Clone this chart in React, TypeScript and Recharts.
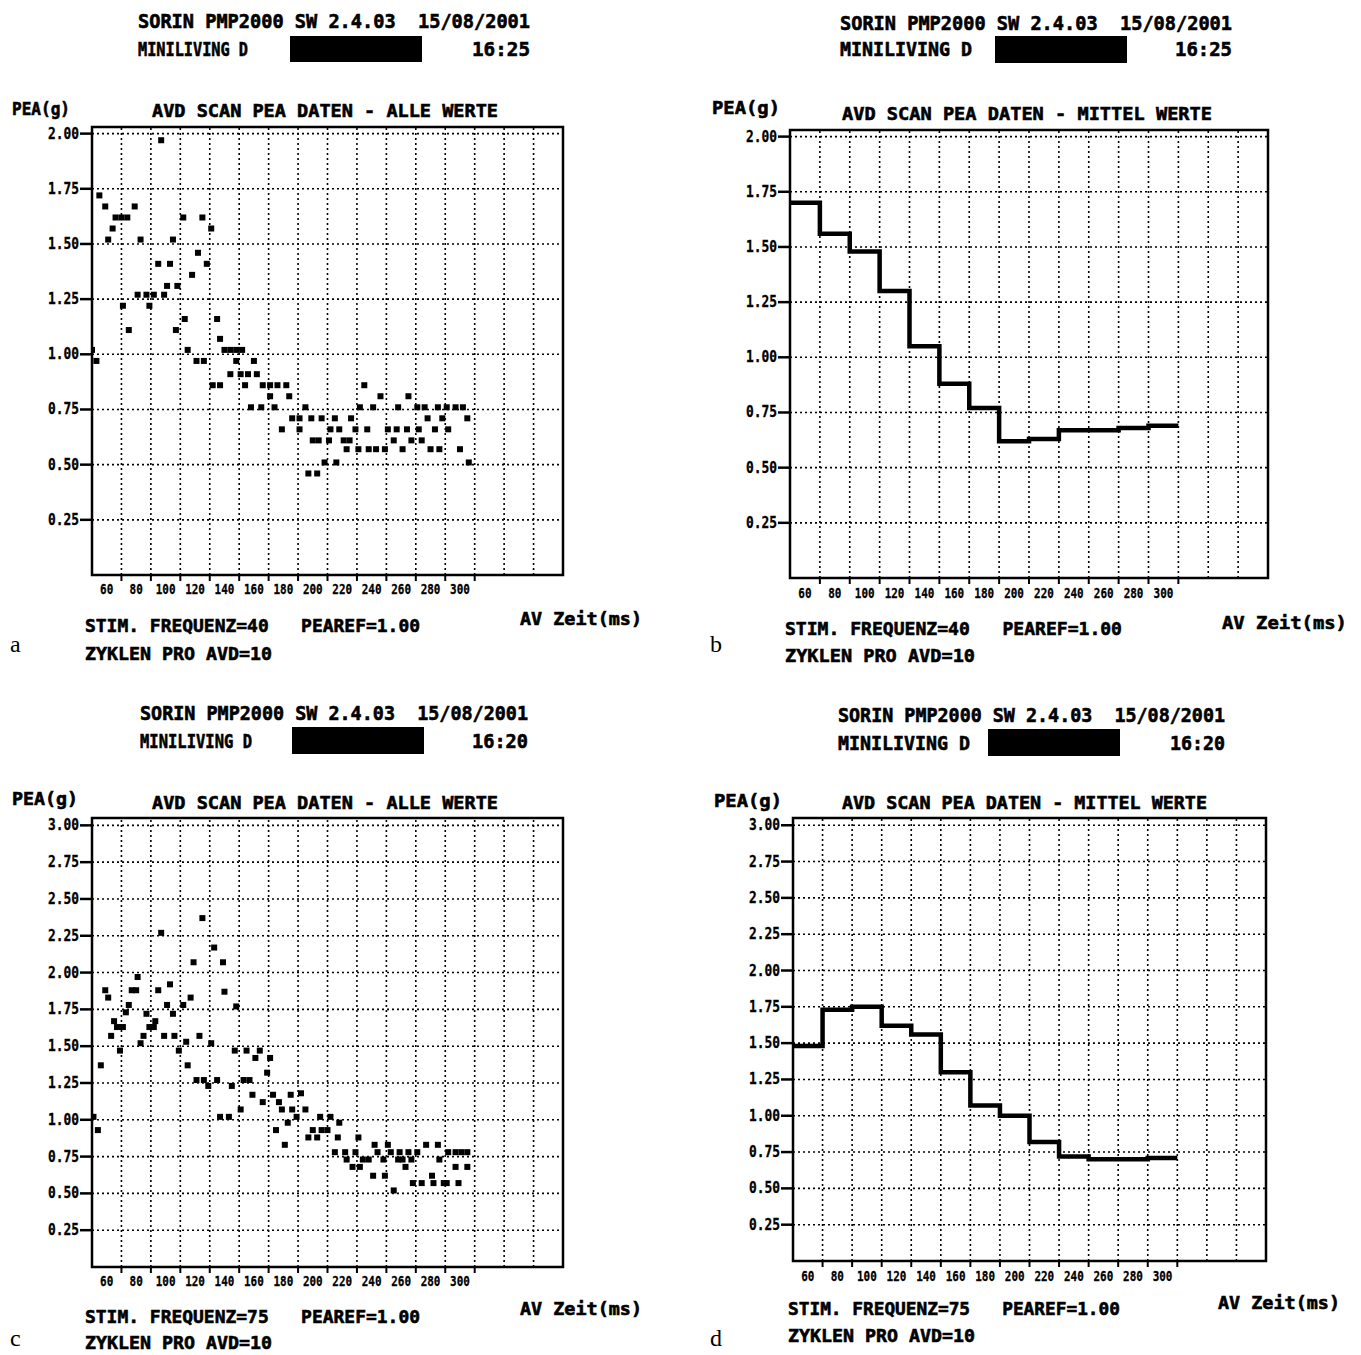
import React from 'react';
import { ComposedChart, XAxis, YAxis, Scatter, Line, ReferenceLine, ReferenceArea } from 'recharts';

// ---------- data ----------
const binCenters = [60, 80, 100, 120, 140, 160, 180, 200, 220, 240, 260, 280, 300];
const xTickLabels = ['60', '80', '100', '120', '140', '160', '180', '200', '220', '240', '260', '280', '300'];
const xTickPositions = [70, 90, 110, 130, 150, 170, 190, 210, 230, 250, 270, 290, 310];
const gridX = [70, 90, 110, 130, 150, 170, 190, 210, 230, 250, 270, 290, 310, 330, 350];
const yTicks2 = [0.25, 0.5, 0.75, 1.0, 1.25, 1.5, 1.75, 2.0];
const yTicks3 = [0.25, 0.5, 0.75, 1.0, 1.25, 1.5, 1.75, 2.0, 2.25, 2.5, 2.75, 3.0];

// Panel b: mean PEA per AV delay (stim 40)
const meanB = [1.70, 1.56, 1.48, 1.30, 1.05, 0.88, 0.77, 0.62, 0.63, 0.67, 0.67, 0.68, 0.69];
// Panel d: mean PEA per AV delay (stim 75)
const meanD = [1.48, 1.73, 1.75, 1.62, 1.56, 1.30, 1.07, 1.00, 0.82, 0.72, 0.70, 0.70, 0.71];

// Panel a: all values (stim 40)
const allAx = [
  97, 55, 59, 79, 66, 70, 74, 64, 61, 83, 105, 112, 125, 131, 122, 95, 103, 128, 118, 101, 108,
  81, 87, 92, 99, 71, 89, 113, 135, 75, 107, 137, 50, 115, 140, 144, 148, 152, 53, 121, 126, 148, 160,
  144, 151, 156, 162, 132, 137, 154, 166, 171, 176, 182, 235, 171, 184, 246, 265,
  158, 165, 174, 195, 232, 241, 258, 271, 276, 285, 291, 297, 302,
  186, 191, 199, 206, 215, 226, 278, 288, 305,
  179, 191, 212, 218, 229, 237, 251, 257, 264, 272, 283, 292,
  200, 204, 211, 221, 225, 255, 267, 274,
  223, 231, 238, 243, 249, 261, 280, 286, 300,
  208, 216, 306, 197, 203,
];
const allAy = [
  1.97, 1.72, 1.67, 1.67, 1.62, 1.62, 1.62, 1.57, 1.52, 1.52, 1.52, 1.62, 1.62, 1.57, 1.46, 1.41, 1.41, 1.41, 1.36, 1.31, 1.31,
  1.27, 1.27, 1.27, 1.27, 1.22, 1.22, 1.16, 1.16, 1.11, 1.11, 1.07, 1.02, 1.02, 1.02, 1.02, 1.02, 1.02, 0.97, 0.97, 0.97, 0.97, 0.97,
  0.91, 0.91, 0.91, 0.91, 0.86, 0.86, 0.86, 0.86, 0.86, 0.86, 0.86, 0.86, 0.81, 0.81, 0.81, 0.81,
  0.76, 0.76, 0.76, 0.76, 0.76, 0.76, 0.76, 0.76, 0.76, 0.76, 0.76, 0.76, 0.76,
  0.71, 0.71, 0.71, 0.71, 0.71, 0.71, 0.71, 0.71, 0.71,
  0.66, 0.66, 0.66, 0.66, 0.66, 0.66, 0.66, 0.66, 0.66, 0.66, 0.66, 0.66,
  0.61, 0.61, 0.61, 0.61, 0.61, 0.61, 0.61, 0.61,
  0.57, 0.57, 0.57, 0.57, 0.57, 0.57, 0.57, 0.57, 0.57,
  0.51, 0.51, 0.51, 0.46, 0.46,
];

// Panel c: all values (stim 75)
const allCx = [
  125, 97, 133, 119, 139, 81, 59, 61, 77, 80, 95, 103, 140, 117, 75, 73, 101, 105, 112, 148, 87,
  65, 67, 71, 89, 92, 93, 63, 85, 99, 106, 123, 83, 114, 131, 69, 109, 147, 155, 164, 161, 171,
  56, 115, 169, 121, 126, 129, 135, 145, 153, 157, 159, 166, 173, 177, 179, 185, 186, 151,
  137, 143, 51, 54, 183, 189, 175, 181,
  192, 195, 205, 212, 218, 200, 206, 210, 197, 203, 217, 231, 242, 251, 277, 285,
  215, 222, 229, 244, 253, 259, 265, 271, 292, 297, 301, 305,
  223, 234, 238, 248, 258, 261, 267, 286,
  227, 232, 263, 297, 305,
  241, 249, 281,
  268, 274, 282, 289, 291, 299,
  255,
];
const allCy = [
  2.37, 2.27, 2.17, 2.07, 2.07, 1.97, 1.88, 1.83, 1.88, 1.88, 1.88, 1.92, 1.87, 1.83, 1.78, 1.73, 1.78, 1.72, 1.78, 1.77, 1.72,
  1.67, 1.63, 1.63, 1.63, 1.63, 1.67, 1.57, 1.57, 1.57, 1.57, 1.57, 1.52, 1.53, 1.52, 1.47, 1.47, 1.47, 1.47, 1.47, 1.42, 1.42,
  1.37, 1.37, 1.32, 1.27, 1.27, 1.23, 1.27, 1.23, 1.27, 1.27, 1.17, 1.12, 1.17, 1.12, 1.07, 1.17, 1.07, 1.07,
  1.02, 1.02, 1.02, 0.93, 0.98, 1.02, 0.93, 0.83,
  1.18, 1.07, 1.02, 1.02, 0.98, 0.93, 0.93, 0.93, 0.88, 0.88, 0.88, 0.88, 0.83, 0.83, 0.83, 0.83,
  0.78, 0.78, 0.78, 0.78, 0.78, 0.78, 0.78, 0.78, 0.78, 0.78, 0.78, 0.78,
  0.73, 0.73, 0.73, 0.73, 0.73, 0.73, 0.73, 0.73,
  0.68, 0.68, 0.68, 0.68, 0.68,
  0.62, 0.62, 0.62,
  0.57, 0.57, 0.57, 0.57, 0.57, 0.57,
  0.52,
];

// ---------- helpers ----------
const MONO = "'DejaVu Sans Mono', 'Liberation Mono', monospace";

const toPoints = (xs: number[], ys: number[]) => xs.map((x, i) => ({ x, y: ys[i] }));
const toSteps = (vals: number[]) => {
  const pts = binCenters.map((c, i) => ({ x: c - 10, y: vals[i] }));
  pts.push({ x: binCenters[binCenters.length - 1] + 10, y: vals[vals.length - 1] });
  return pts;
};

const Square = (props: any) => {
  const { cx, cy } = props;
  if (cx == null || cy == null) return null;
  return <rect x={cx - 3} y={cy - 3} width={6} height={6} fill="#000" />;
};

const XTick = (props: any) => {
  const { x, y, index, half, dy } = props;
  const s = xTickLabels[index];
  return (
    <text x={x - half} y={y + dy} textAnchor="middle" fontFamily={MONO} fontWeight="bold" fontSize={14}
      textLength={s.length * 6.6} lengthAdjust="spacingAndGlyphs" fill="#000" stroke="#000" strokeWidth={0.3}>
      {s}
    </text>
  );
};

const YTick = (props: any) => {
  const { x, y, payload } = props;
  const s = Number(payload.value).toFixed(2);
  return (
    <text x={x} y={y + 5} textAnchor="end" fontFamily={MONO} fontWeight="bold" fontSize={15}
      textLength={31} lengthAdjust="spacingAndGlyphs" fill="#000" stroke="#000" strokeWidth={0.3}>
      {s}
    </text>
  );
};

type ChartProps = {
  left: number; top: number; width: number; height: number;
  margin: { top: number; right: number; bottom: number; left: number };
  yMax: number; yTicks: number[];
  points?: { x: number; y: number }[];
  steps?: { x: number; y: number }[];
  half: number; labelDy: number;
};

function PanelChart(p: ChartProps) {
  return (
    <div style={{ position: 'absolute', left: p.left, top: p.top, width: p.width, height: p.height }}>
      <ComposedChart width={p.width} height={p.height} margin={p.margin}>
        <XAxis
          type="number"
          dataKey="x"
          domain={[50, 370]}
          ticks={xTickPositions}
          interval={0}
          allowDataOverflow
          height={30}
          tickSize={6}
          tickMargin={0}
          axisLine={{ stroke: '#000', strokeWidth: 2 }}
          tickLine={{ stroke: '#000', strokeWidth: 2 }}
          tick={(tp: any) => <XTick {...tp} half={p.half} dy={p.labelDy} />}
        />
        <YAxis
          type="number"
          dataKey="y"
          domain={[0, p.yMax]}
          ticks={p.yTicks}
          interval={0}
          allowDataOverflow
          width={40}
          tickSize={12}
          tickMargin={1}
          axisLine={{ stroke: '#000', strokeWidth: 2 }}
          tickLine={{ stroke: '#000', strokeWidth: 2.5 }}
          tick={(tp: any) => <YTick {...tp} />}
        />
        {gridX.map((v) => (
          <ReferenceLine key={'gx' + v} x={v} stroke="#000" strokeWidth={1.6} strokeDasharray="2 3" />
        ))}
        {p.yTicks.map((v) => (
          <ReferenceLine key={'gy' + v} y={v} stroke="#000" strokeWidth={1.6} strokeDasharray="2 3" />
        ))}
        <ReferenceArea x1={50} x2={370} y1={0} y2={p.yMax} fill="none" fillOpacity={0} stroke="#000" strokeWidth={2.5} />
        {p.points && (
          <Scatter data={p.points} dataKey="y" fill="#000" shape={Square} isAnimationActive={false} />
        )}
        {p.steps && (
          <Line data={p.steps} dataKey="y" type="stepAfter" stroke="#000" strokeWidth={4.5} dot={false} isAnimationActive={false} />
        )}
      </ComposedChart>
    </div>
  );
}

type T = { s: string; x: number; y: number; w: number; size?: number };

function Label({ s, x, y, w, size = 18 }: T) {
  return (
    <text x={x} y={y} textLength={w} lengthAdjust="spacingAndGlyphs" fontFamily={MONO} fontWeight="bold" fontSize={size}
      fill="#000" stroke="#000" strokeWidth={0.6} style={{ whiteSpace: 'pre' }} xmlSpace="preserve">
      {s}
    </text>
  );
}

const texts: T[] = [
  // a
  { s: 'SORIN PMP2000 SW 2.4.03  15/08/2001', x: 138, y: 28, w: 392, size: 19 },
  { s: 'MINILIVING D', x: 138, y: 56, w: 110, size: 19 },
  { s: '16:25', x: 472, y: 56, w: 58, size: 19 },
  { s: 'PEA(g)', x: 12, y: 115, w: 58, size: 18 },
  { s: 'AVD SCAN PEA DATEN - ALLE WERTE', x: 152, y: 117, w: 346, size: 18 },
  { s: 'STIM. FREQUENZ=40   PEAREF=1.00', x: 85, y: 632, w: 335, size: 18 },
  { s: 'ZYKLEN PRO AVD=10', x: 85, y: 660, w: 187, size: 18 },
  { s: 'AV Zeit(ms)', x: 520, y: 625, w: 122, size: 18 },
  // b
  { s: 'SORIN PMP2000 SW 2.4.03  15/08/2001', x: 840, y: 30, w: 392, size: 19 },
  { s: 'MINILIVING D', x: 840, y: 56, w: 132, size: 19 },
  { s: '16:25', x: 1175, y: 56, w: 57, size: 19 },
  { s: 'PEA(g)', x: 712, y: 114, w: 68, size: 18 },
  { s: 'AVD SCAN PEA DATEN - MITTEL WERTE', x: 842, y: 120, w: 370, size: 18 },
  { s: 'STIM. FREQUENZ=40   PEAREF=1.00', x: 785, y: 635, w: 337, size: 18 },
  { s: 'ZYKLEN PRO AVD=10', x: 785, y: 662, w: 190, size: 18 },
  { s: 'AV Zeit(ms)', x: 1222, y: 629, w: 125, size: 18 },
  // c
  { s: 'SORIN PMP2000 SW 2.4.03  15/08/2001', x: 140, y: 720, w: 388, size: 19 },
  { s: 'MINILIVING D', x: 140, y: 748, w: 112, size: 19 },
  { s: '16:20', x: 472, y: 748, w: 56, size: 19 },
  { s: 'PEA(g)', x: 12, y: 805, w: 66, size: 18 },
  { s: 'AVD SCAN PEA DATEN - ALLE WERTE', x: 152, y: 809, w: 346, size: 18 },
  { s: 'STIM. FREQUENZ=75   PEAREF=1.00', x: 85, y: 1323, w: 335, size: 18 },
  { s: 'ZYKLEN PRO AVD=10', x: 85, y: 1349, w: 187, size: 18 },
  { s: 'AV Zeit(ms)', x: 520, y: 1315, w: 122, size: 18 },
  // d
  { s: 'SORIN PMP2000 SW 2.4.03  15/08/2001', x: 838, y: 722, w: 387, size: 19 },
  { s: 'MINILIVING D', x: 838, y: 750, w: 132, size: 19 },
  { s: '16:20', x: 1170, y: 750, w: 55, size: 19 },
  { s: 'PEA(g)', x: 714, y: 807, w: 68, size: 18 },
  { s: 'AVD SCAN PEA DATEN - MITTEL WERTE', x: 842, y: 809, w: 365, size: 18 },
  { s: 'STIM. FREQUENZ=75   PEAREF=1.00', x: 788, y: 1315, w: 332, size: 18 },
  { s: 'ZYKLEN PRO AVD=10', x: 788, y: 1342, w: 187, size: 18 },
  { s: 'AV Zeit(ms)', x: 1218, y: 1309, w: 122, size: 18 },
];

const blackBoxes = [
  { x: 290, y: 36, w: 132, h: 26 },
  { x: 995, y: 36, w: 132, h: 27 },
  { x: 292, y: 727, w: 132, h: 27 },
  { x: 988, y: 729, w: 132, h: 27 },
];

const panelLetters = [
  { s: 'a', x: 10, y: 652 },
  { s: 'b', x: 710, y: 652 },
  { s: 'c', x: 10, y: 1346 },
  { s: 'd', x: 710, y: 1346 },
];

export default function App() {
  const pointsA = toPoints(allAx, allAy);
  const pointsC = toPoints(allCx, allCy);
  const stepsB = toSteps(meanB);
  const stepsD = toSteps(meanD);
  return (
    <div style={{ position: 'absolute', left: 0, top: 0, width: 1361, height: 1355, background: '#fff', overflow: 'hidden' }}>
      <PanelChart left={0} top={0} width={680} height={680}
        margin={{ top: 127, right: 117, bottom: 75, left: 52 }}
        yMax={2.03} yTicks={yTicks2} points={pointsA} half={471 / 32} labelDy={13} />
      <PanelChart left={700} top={0} width={661} height={680}
        margin={{ top: 130, right: 93, bottom: 72, left: 50 }}
        yMax={2.03} yTicks={yTicks2} steps={stepsB} half={478 / 32} labelDy={14} />
      <PanelChart left={0} top={680} width={680} height={675}
        margin={{ top: 138, right: 117, bottom: 58, left: 52 }}
        yMax={3.05} yTicks={yTicks3} points={pointsC} half={471 / 32} labelDy={13} />
      <PanelChart left={700} top={680} width={661} height={675}
        margin={{ top: 138, right: 95, bottom: 64, left: 53 }}
        yMax={3.05} yTicks={yTicks3} steps={stepsD} half={473 / 32} labelDy={14} />
      <svg width={1361} height={1355} style={{ position: 'absolute', left: 0, top: 0, pointerEvents: 'none' }}>
        {blackBoxes.map((b, i) => (
          <rect key={'bb' + i} x={b.x} y={b.y} width={b.w} height={b.h} fill="#000" />
        ))}
        {texts.map((t, i) => (
          <Label key={'t' + i} {...t} />
        ))}
        {panelLetters.map((l) => (
          <text key={l.s} x={l.x} y={l.y} fontFamily="'Liberation Serif', 'DejaVu Serif', serif" fontSize={24} fill="#000">
            {l.s}
          </text>
        ))}
      </svg>
    </div>
  );
}
